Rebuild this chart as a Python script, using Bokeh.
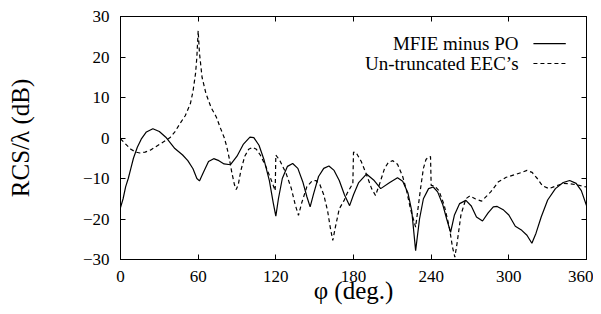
from bokeh.plotting import figure
from bokeh.models import LinearAxis, FixedTicker, Range1d, Label, Arrow
from bokeh.embed import file_html
from bokeh.resources import INLINE

# ---- data ----
x_ticks = [0, 60, 120, 180, 240, 300, 360]
y_ticks = [-30, -20, -10, 0, 10, 20, 30]

solid_phi = [0, 2, 4, 6, 8, 10, 13, 16, 20, 25, 30, 35, 42, 48, 52, 56, 59, 61, 64, 68,
             72, 76, 80, 85, 90, 95, 100, 103, 107, 111, 115, 118, 120, 122, 125, 129, 133,
             137, 141, 144, 146.5, 149, 153, 157, 161, 165, 169, 173, 177, 180, 184, 190,
             196, 201, 208, 214, 218, 222, 225, 228, 231, 234, 238, 241.6, 245, 249, 252,
             255, 258, 262, 266.8, 271, 275, 279.7, 284, 288, 291, 296, 300, 305, 310, 314,
             317.8, 321, 325, 330, 336, 342, 347, 352, 356, 360]
solid_db = [-17.2, -15, -12, -10, -7.5, -5, -2.3, -0.3, 1.5, 2.3, 1.6, 0.2, -2.6, -4.2, -5.6,
            -7.6, -10, -10.6, -8.5, -5.8, -5.1, -5.6, -6.4, -6.6, -4.5, -1.5, 0.2, 0.1, -1.8,
            -5.5, -10.5, -16, -19.3, -15, -10, -7, -6.3, -7.5, -11, -14.5, -17, -14, -9.5,
            -7.5, -6.9, -8, -10.5, -14, -16.7, -14, -11, -8.9, -10.5, -12.5, -11, -9.8, -10.7,
            -13.5, -18, -27.8, -20, -15, -12.5, -12.1, -13.3, -16.5, -20, -23.3, -19, -16.2,
            -15.4, -16.8, -19.5, -20.5, -18.5, -17, -16.9, -17.8, -19, -21.8, -22.8, -24,
            -26, -23.5, -19.5, -15.3, -12.5, -11, -10.5, -11.2, -13, -16.7]

dashed_phi = [0, 4, 8, 12, 15, 19, 23, 27, 31, 35, 38.6, 42, 46, 50, 54, 56, 58, 59, 60, 61,
              63, 66, 70, 74, 77, 80, 82, 84, 86, 88, 89.4, 91, 93, 96, 99, 102, 105, 108,
              112, 116, 119.5, 120, 123, 128, 132, 135, 137.5, 140, 144, 148, 151, 154, 157,
              160, 162, 164, 166, 169, 172.8, 175, 179.5, 180, 182, 186, 190, 194, 197, 200,
              204, 207, 210.4, 214, 218, 221, 224, 228, 230, 232, 234, 236, 238, 239.5, 240,
              242.8, 246, 250, 254, 256.5, 258.3, 260, 263, 266.8, 270, 274, 279, 286, 292,
              298, 305, 310, 314, 318, 322, 326, 331, 336, 342, 347.6, 353, 360]
dashed_db = [-0.2, -1.5, -2.8, -3.5, -3.7, -3.5, -3.0, -2.2, -1.4, -0.6, 0.2, 1.5, 3.6, 5.5,
             8.5, 11.5, 16, 20, 26.5, 21, 15, 11, 7.5, 5.2, 2.6, 0.2, -2, -5, -8.5, -11.5,
             -12.7, -11.5, -8, -4.5, -2.8, -2.3, -2.8, -4.2, -6.8, -10, -13, -4.2, -5.5, -8.8,
             -12.5, -16.5, -19.1, -16, -12, -10.6, -10.5, -11.5, -14, -18, -22, -25.3, -22,
             -17.5, -15.4, -13.7, -11.2, -3.5, -3.6, -5.8, -9, -12.5, -14.2, -11.5, -7.5, -6,
             -5.6, -6.5, -9.5, -13, -17.5, -22, -17, -12, -7.5, -5.3, -4.7, -4.6, -11.7, -11.9,
             -13, -16.5, -22, -27, -29.4, -26, -19, -15, -14.3, -15, -15.6, -13.3, -10.8, -9.7,
             -9.0, -8.5, -8, -8.5, -10, -11.8, -12.5, -11.9, -11.2, -11.3, -11.6, -12.1]

legend_labels = ["MFIE minus PO", "Un-truncated EEC\u2019s"]
x_label = "\u03c6 (deg.)"
y_label = "RCS/\u03bb (dB)"

FONT = "Liberation Serif"

p = figure(width=593, height=306, x_range=Range1d(0, 360), y_range=Range1d(-30, 30),
           output_backend="svg", toolbar_location=None,
           min_border_left=120, min_border_right=7, min_border_top=16, min_border_bottom=47)
p.grid.visible = False
p.outline_line_color = "black"
p.outline_line_width = 1
p.background_fill_color = "white"
p.border_fill_color = "white"

for ax, ticks in ((p.xaxis[0], x_ticks), (p.yaxis[0], y_ticks)):
    ax.ticker = FixedTicker(ticks=ticks)
    ax.major_tick_in = 5
    ax.major_tick_out = 0
    ax.minor_tick_line_color = None
    ax.axis_line_color = "black"
    ax.major_tick_line_color = "black"
    ax.major_label_text_font = FONT
    ax.major_label_text_font_size = "17px"
    ax.major_label_text_color = "black"

p.xaxis[0].major_label_standoff = 11
p.yaxis[0].major_label_standoff = 11

# x title as the axis label
xa = p.xaxis[0]
xa.axis_label = x_label
xa.axis_label_text_font = FONT
xa.axis_label_text_font_style = "normal"
xa.axis_label_text_font_size = "25px"
xa.axis_label_text_color = "black"
xa.axis_label_standoff = -8

# y title carried by a bare second left axis, whose bounds centre it lower as in the reference
ylab_axis = LinearAxis(bounds=(-30, 18), ticker=FixedTicker(ticks=[]),
                       axis_line_color=None, major_tick_line_color=None,
                       minor_tick_line_color=None, major_label_text_color=None,
                       axis_label=y_label, axis_label_standoff=46,
                       axis_label_text_font=FONT, axis_label_text_font_style="normal",
                       axis_label_text_font_size="25px", axis_label_text_color="black")
p.add_layout(ylab_axis, "left")

# mirrored inward ticks on top and right, without labels
for side, ticks in (("above", x_ticks), ("right", y_ticks)):
    ax = LinearAxis(ticker=FixedTicker(ticks=ticks), major_tick_in=5, major_tick_out=0,
                    minor_tick_line_color=None, major_label_standoff=0,
                    major_label_text_color=None, major_label_text_font_size="1px",
                    axis_line_color="black")
    p.add_layout(ax, side)

p.line(solid_phi, solid_db, line_color="black", line_width=1.2)
p.line(dashed_phi, dashed_db, line_color="black", line_width=1.2, line_dash="4 3")

# legend drawn like the reference: text on the left, sample line on the right
leg_y = [23.3, 18.4]
leg_dash = ["solid", "4 3"]
for lbl, yy, dash in zip(legend_labels, leg_y, leg_dash):
    p.add_layout(Label(x=307.5, y=yy, text=lbl, text_align="right", text_baseline="middle",
                       text_font=FONT, text_font_size="19px", text_color="black"))
    p.add_layout(Arrow(end=None, x_start=319, y_start=yy, x_end=344, y_end=yy,
                       line_color="black", line_width=1.2, line_dash=dash))

open("out.html", "w").write(file_html(p, INLINE))
